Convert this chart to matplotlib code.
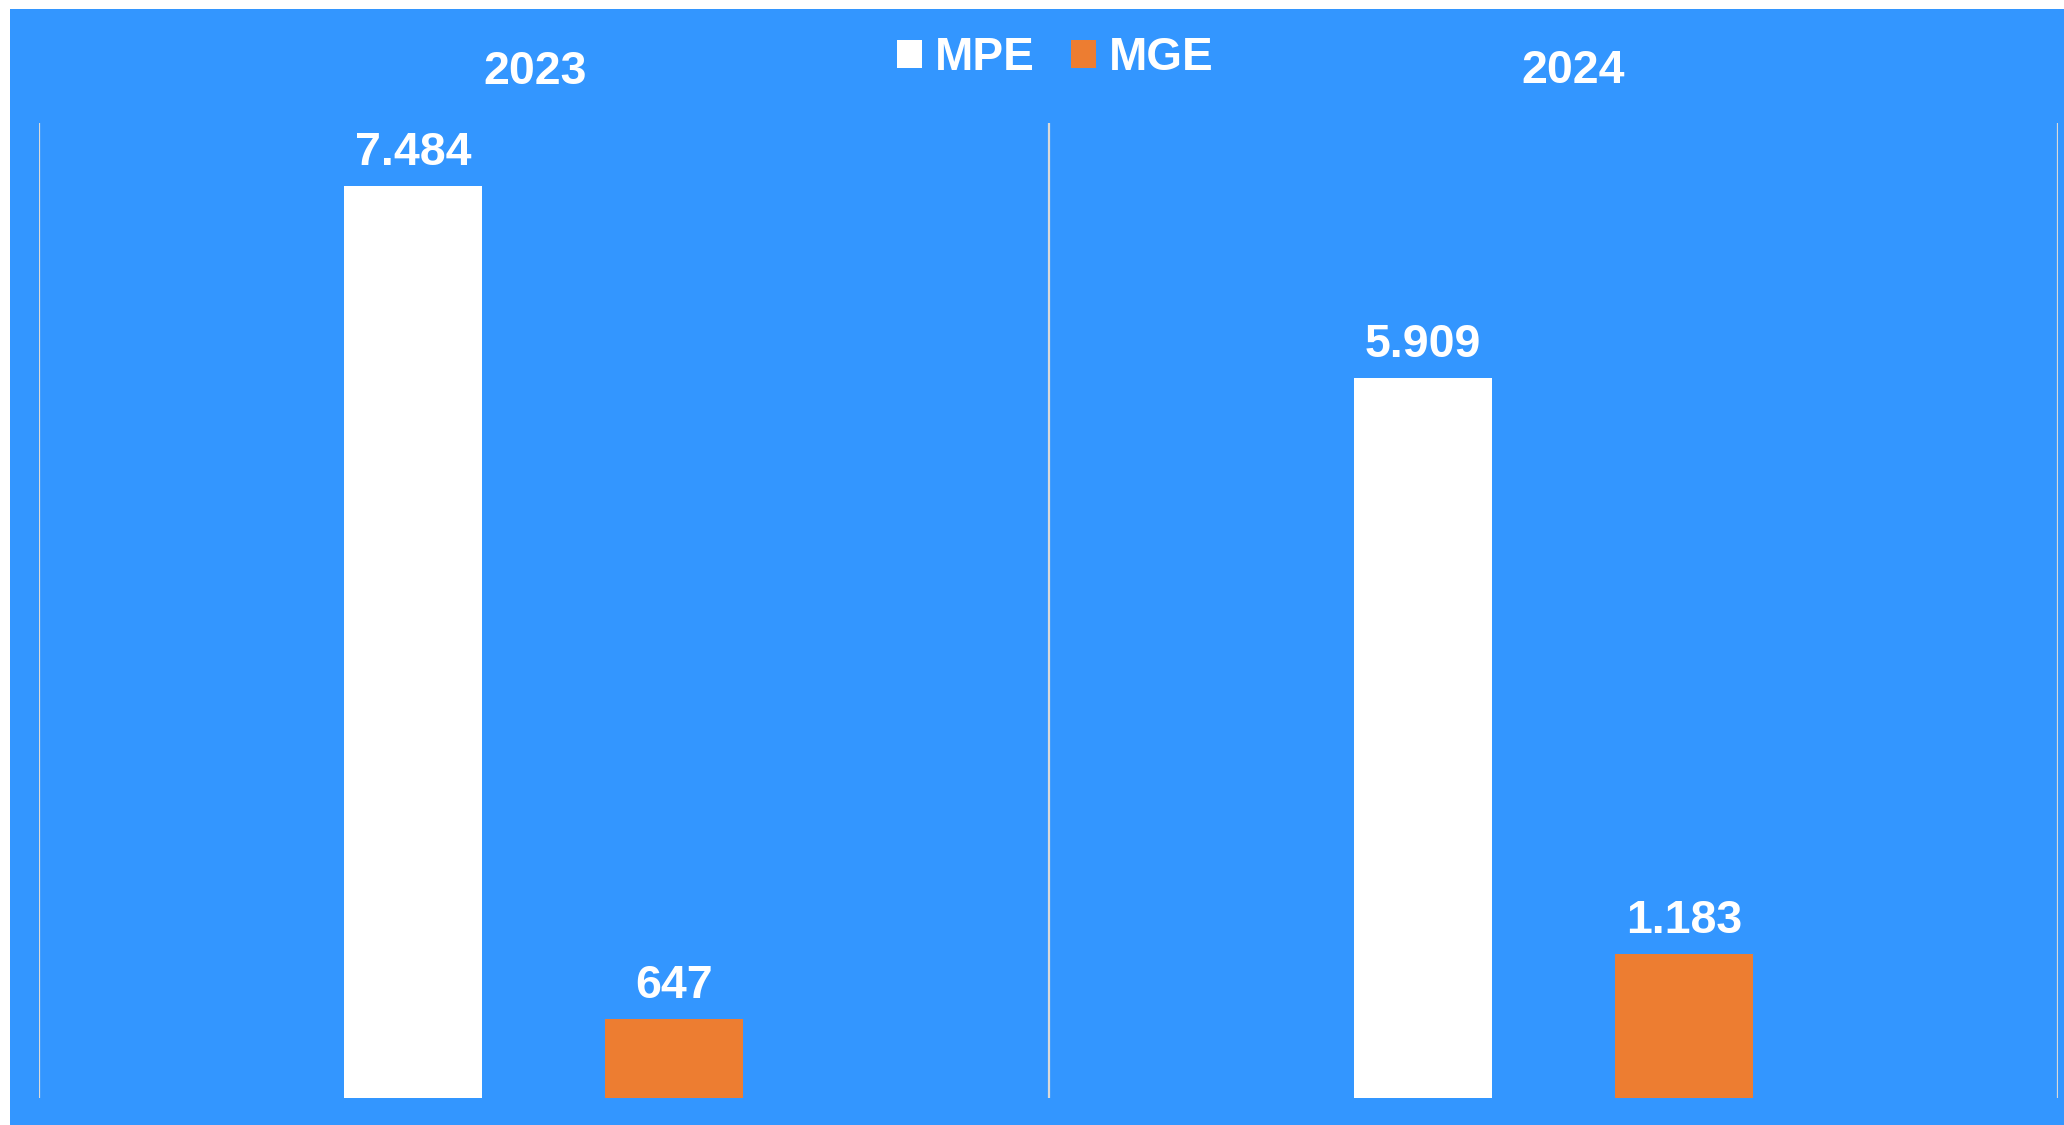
import matplotlib
matplotlib.use("Agg")
import matplotlib.pyplot as plt
from matplotlib.patches import Rectangle, Patch

# data
years = ["2023", "2024"]
mpe = [7484, 5909]
mge = [647, 1183]
series_names = ["MPE", "MGE"]


def fmt(v):
    # German style thousands separator
    return f"{v:,}".replace(",", ".")


plt.rcParams['font.family'] = ['Liberation Sans', 'DejaVu Sans']

BLUE = "#3396FF"
ORANGE = "#ED7D31"
GRID = "#D9D9D9"
W, H = 2064, 1125

fig = plt.figure(figsize=(W / 100, H / 100), dpi=100, facecolor="white")
# blue panel behind everything (small white margin top/left)
fig.patches.append(Rectangle((10 / W, 0), 1 - 10 / W, 1 - 9 / H,
                             transform=fig.transFigure, facecolor=BLUE,
                             edgecolor="none", zorder=-5))

ax = fig.add_axes([39 / W, 27 / H, (2058 - 39) / W, (1098 - 123) / H])
ax.set_facecolor("none")
for s in ax.spines.values():
    s.set_visible(False)
ax.set_xticks([])
ax.set_yticks([])
ax.set_xlim(0, len(years))
ax.set_ylim(0, 8000)

for xv in range(len(years) + 1):
    ax.axvline(xv, color=GRID, lw=1.6, zorder=1)

off = 0.1295
bw = 0.1367
xs = [i + 0.5 for i in range(len(years))]
b1 = ax.bar([x - off for x in xs], mpe, width=bw, color="white", zorder=2)
b2 = ax.bar([x + off for x in xs], mge, width=bw, color=ORANGE, zorder=2)

for bars, vals in ((b1, mpe), (b2, mge)):
    for r, v in zip(bars, vals):
        ax.annotate(fmt(v), (r.get_x() + r.get_width() / 2, v),
                    xytext=(0, 15), textcoords="offset points",
                    ha="center", va="baseline", fontsize=33.5,
                    fontweight="bold", color="white")

# year headers
fig.text(535 / W, 1 - 84 / H, years[0], ha="center", va="baseline",
         fontsize=33.5, fontweight="bold", color="white")
fig.text(1573 / W, 1 - 83 / H, years[1], ha="center", va="baseline",
         fontsize=33.5, fontweight="bold", color="white")

handles = [Patch(facecolor="white", edgecolor="none"),
           Patch(facecolor=ORANGE, edgecolor="none")]
leg = fig.legend(handles, series_names, loc="center", ncol=2,
                 bbox_to_anchor=(1055.5 / W, 1 - 58 / H), frameon=False,
                 fontsize=33, handlelength=0.55, handleheight=0.55,
                 handletextpad=0.28, columnspacing=0.79, borderpad=0,
                 borderaxespad=0)
for t in leg.get_texts():
    t.set_color("white")
    t.set_fontweight("bold")

fig.savefig("out.png", dpi=100, facecolor="white")
